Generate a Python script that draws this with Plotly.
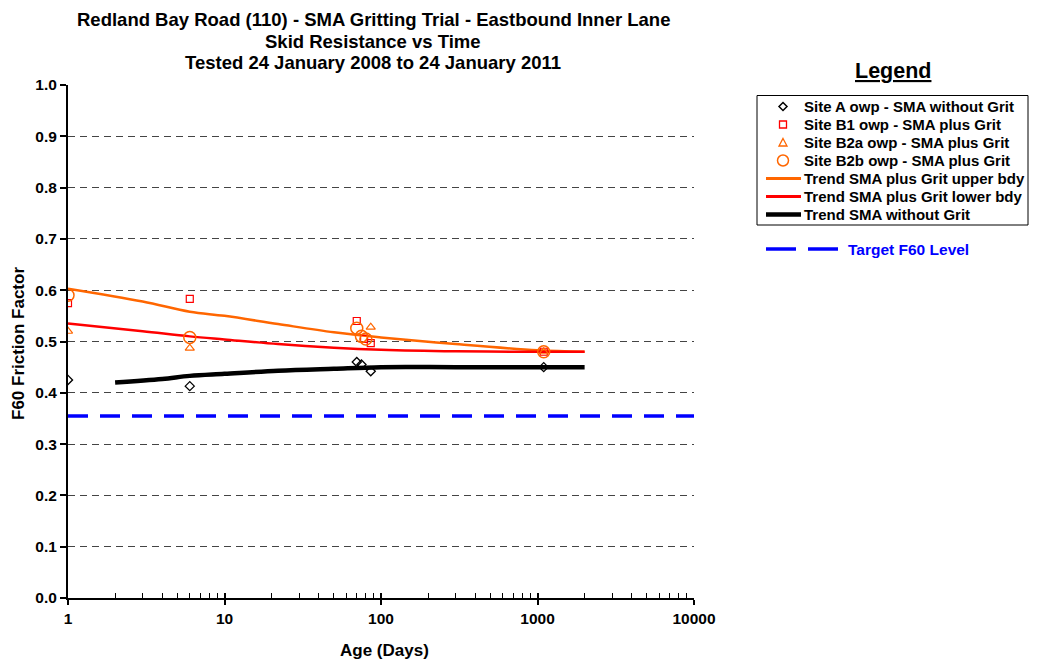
import plotly.graph_objects as go

# ---- data ----
siteA_x = [1, 6, 70, 75, 86, 1096]
siteA_y = [0.425, 0.413, 0.460, 0.455, 0.442, 0.450]

siteB1_x = [1, 6, 70, 78, 86, 1096]
siteB1_y = [0.575, 0.583, 0.540, 0.505, 0.497, 0.480]

siteB2a_x = [1, 6, 86, 1096]
siteB2a_y = [0.520, 0.487, 0.528, 0.480]

siteB2b_x = [1, 6, 70, 75, 80, 1096]
siteB2b_y = [0.590, 0.508, 0.526, 0.510, 0.505, 0.480]

upper_x = [1, 3, 6, 10, 22, 50, 100, 300, 1000, 2000]
upper_y = [0.603, 0.578, 0.558, 0.550, 0.534, 0.518, 0.508, 0.495, 0.483, 0.480]

lower_x = [1, 3, 6, 10, 22, 50, 100, 300, 1000, 2000]
lower_y = [0.535, 0.520, 0.510, 0.504, 0.495, 0.488, 0.484, 0.481, 0.480, 0.480]

nogrit_x = [2, 4, 6, 10, 22, 50, 100, 300, 1000, 2000]
nogrit_y = [0.420, 0.427, 0.433, 0.437, 0.443, 0.447, 0.450, 0.450, 0.450, 0.450]

target_x = [1, 10000]
target_y = [0.355, 0.355]

y_ticks = [0.0, 0.1, 0.2, 0.3, 0.4, 0.5, 0.6, 0.7, 0.8, 0.9, 1.0]
x_ticks = [1, 10, 100, 1000, 10000]
x_ticktext = ["1", "10", "100", "1000", "10000"]

title_lines = ["Redland Bay Road (110) - SMA Gritting Trial - Eastbound Inner Lane",
               "Skid Resistance vs Time",
               "Tested 24 January 2008 to 24 January 2011"]

legend_names = ["Site A owp - SMA without Grit", "Site B1 owp - SMA plus Grit",
                "Site B2a owp - SMA plus Grit", "Site B2b owp - SMA plus Grit",
                "Trend SMA plus Grit upper bdy", "Trend SMA plus Grit lower bdy",
                "Trend SMA without Grit"]
target_name = "Target F60 Level"

FONT = "Liberation Sans, Arial, sans-serif"
ORANGE = "#FF6600"
RED = "#FF0000"
BLUE = "#0000FF"

OFF = 8  # page body margin in the screenshot
W, H = 1029, 652
L, T = 60, 77
PW, PH = 626, 513
R, B = W - L - PW, H - T - PH


def px(x):
    """screenshot pixel x -> paper x"""
    return (x - OFF - L) / PW


def py(y):
    """screenshot pixel y -> paper y"""
    return (T + PH - (y - OFF)) / PH


fig = go.Figure()

fig.add_trace(go.Scatter(x=target_x, y=target_y, mode="lines", name=target_name,
                         line=dict(color=BLUE, width=3.5, dash="20px,12px")))
fig.add_trace(go.Scatter(x=upper_x, y=upper_y, mode="lines", name=legend_names[4],
                         line=dict(color=ORANGE, width=2.5, shape="spline")))
fig.add_trace(go.Scatter(x=lower_x, y=lower_y, mode="lines", name=legend_names[5],
                         line=dict(color=RED, width=2.5, shape="spline")))
fig.add_trace(go.Scatter(x=nogrit_x, y=nogrit_y, mode="lines", name=legend_names[6],
                         line=dict(color="black", width=4.5, shape="spline")))
fig.add_trace(go.Scatter(x=siteA_x, y=siteA_y, mode="markers", name=legend_names[0],
                         marker=dict(symbol="diamond-open", size=7, color="black", line=dict(width=1.3))))
fig.add_trace(go.Scatter(x=siteB1_x, y=siteB1_y, mode="markers", name=legend_names[1],
                         marker=dict(symbol="square-open", size=7, color=RED, line=dict(width=1.2))))
fig.add_trace(go.Scatter(x=siteB2a_x, y=siteB2a_y, mode="markers", name=legend_names[2],
                         marker=dict(symbol="triangle-up-open", size=8, color=ORANGE, line=dict(width=1.2))))
fig.add_trace(go.Scatter(x=siteB2b_x, y=siteB2b_y, mode="markers", name=legend_names[3],
                         marker=dict(symbol="circle-open", size=12, color=ORANGE, line=dict(width=1.5))))

# invisible trace on an overlay axis so major x ticks can also be drawn inside (crossing the axis)
fig.add_trace(go.Scatter(x=[1], y=[0], xaxis="x2", mode="markers",
                         marker=dict(opacity=0), hoverinfo="skip", showlegend=False))

minor_vals = [m * 10 ** d for d in range(4) for m in range(2, 10)]

annotations = []
shapes = []

# title (three lines)
for txt, yc in zip(title_lines, [20, 41, 63]):
    annotations.append(dict(text=txt, x=px(373), y=py(yc), xref="paper", yref="paper",
                            xanchor="center", yanchor="middle", showarrow=False,
                            font=dict(size=18.5, weight="bold")))

# legend heading
annotations.append(dict(text="<u>Legend</u>", x=px(893), y=py(71), xref="paper", yref="paper",
                        xanchor="center", yanchor="middle", showarrow=False,
                        font=dict(size=21.5, weight="bold")))

# legend box
shapes.append(dict(type="rect", xref="paper", yref="paper", x0=px(757), x1=px(1028),
                   y0=py(95.5), y1=py(225), line=dict(color="black", width=1), fillcolor="white",
                   layer="below"))

rows = [106.5, 124.5, 142.5, 160.5, 178.5, 196.5, 214.5]
sx = 783
for name, yc in zip(legend_names, rows):
    annotations.append(dict(text=name, x=px(802), y=py(yc), xref="paper", yref="paper",
                            xanchor="left", yanchor="middle", showarrow=False,
                            font=dict(size=15, weight="bold")))

# legend symbols
r = 4
yA = rows[0]
shapes.append(dict(type="path", xref="paper", yref="paper", layer="above",
                   path=f"M{px(sx)},{py(yA - r)} L{px(sx + r)},{py(yA)} L{px(sx)},{py(yA + r)} L{px(sx - r)},{py(yA)} Z",
                   line=dict(color="black", width=1.5)))
yB = rows[1]
shapes.append(dict(type="rect", xref="paper", yref="paper", layer="above",
                   x0=px(sx - 3.5), x1=px(sx + 3.5), y0=py(yB - 3.5), y1=py(yB + 3.5),
                   line=dict(color=RED, width=1.3)))
yC = rows[2]
shapes.append(dict(type="path", xref="paper", yref="paper", layer="above",
                   path=f"M{px(sx)},{py(yC - 4)} L{px(sx + 4)},{py(yC + 3.5)} L{px(sx - 4)},{py(yC + 3.5)} Z",
                   line=dict(color=ORANGE, width=1.3)))
yD = rows[3]
shapes.append(dict(type="circle", xref="paper", yref="paper", layer="above",
                   x0=px(sx - 5.5), x1=px(sx + 5.5), y0=py(yD - 5.5), y1=py(yD + 5.5),
                   line=dict(color=ORANGE, width=1.5)))
for yc, col, wd in zip(rows[4:], [ORANGE, RED, "black"], [3, 3, 4.5]):
    shapes.append(dict(type="line", xref="paper", yref="paper", layer="above",
                       x0=px(766), x1=px(801), y0=py(yc), y1=py(yc),
                       line=dict(color=col, width=wd)))

# target legend entry
for x0, x1 in [(766, 796), (808, 838)]:
    shapes.append(dict(type="line", xref="paper", yref="paper", layer="above",
                       x0=px(x0), x1=px(x1), y0=py(249), y1=py(249),
                       line=dict(color=BLUE, width=3.5)))
annotations.append(dict(text=target_name, x=px(846), y=py(249.5), xref="paper", yref="paper",
                        xanchor="left", yanchor="middle", showarrow=False,
                        font=dict(size=15.5, weight="bold", color=BLUE)))

# axis titles
annotations.append(dict(text="Age (Days)", x=px(384), y=py(650), xref="paper", yref="paper",
                        xanchor="center", yanchor="middle", showarrow=False,
                        font=dict(size=17, weight="bold")))
annotations.append(dict(text="F60 Friction Factor", x=px(18), y=py(344), xref="paper", yref="paper",
                        xanchor="center", yanchor="middle", showarrow=False, textangle=-90,
                        font=dict(size=17, weight="bold")))

fig.update_layout(
    width=W, height=H,
    paper_bgcolor="white", plot_bgcolor="white",
    margin=dict(l=L, r=R, t=T, b=B, autoexpand=False),
    showlegend=False,
    font=dict(family=FONT, size=12, color="black", weight="bold"),
    xaxis=dict(type="log", range=[0, 4], tickvals=x_ticks, ticktext=x_ticktext,
               ticks="outside", ticklen=5, tickwidth=1.5, tickcolor="black",
               showline=True, linecolor="black", linewidth=2, showgrid=False, zeroline=False,
               automargin=False,
               minor=dict(tickvals=minor_vals, ticks="inside", ticklen=5, tickwidth=1.2,
                          tickcolor="black", showgrid=False),
               tickfont=dict(size=15.5, weight="bold")),
    xaxis2=dict(type="log", range=[0, 4], overlaying="x", side="bottom", anchor="y",
                tickvals=x_ticks, showticklabels=False, ticks="inside", ticklen=5,
                tickwidth=1.5, tickcolor="black", showgrid=False, zeroline=False,
                showline=False, automargin=False),
    yaxis=dict(range=[0, 1.0], tickvals=y_ticks, tickformat=".1f",
               ticks="outside", ticklen=6, tickwidth=1.5, tickcolor="black",
               showline=True, linecolor="black", linewidth=2,
               showgrid=True, gridcolor="#444444", gridwidth=1, griddash="7px,5px",
               zeroline=False, automargin=False,
               tickfont=dict(size=15.5, weight="bold")),
    annotations=annotations,
    shapes=shapes,
)

fig.write_html("out.html")
